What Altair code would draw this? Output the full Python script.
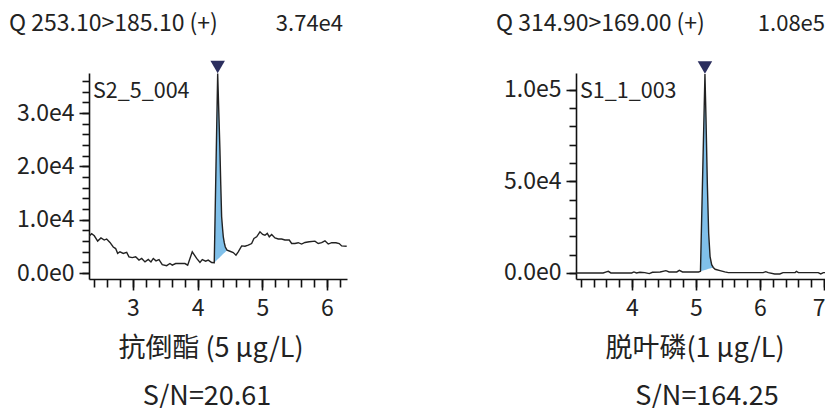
import altair as alt
import pandas as pd

FONT = "Noto Sans CJK SC"
INK = "#222222"
FILL = "#80c0ea"
MARK = "#2b2e5e"

# ---------------- left panel: 抗倒酯 ----------------
left_t = [2.32, 2.361, 2.402, 2.454, 2.505, 2.556, 2.593, 2.644, 2.695, 2.732,
          2.763, 2.799, 2.850, 2.903, 2.938, 2.989, 3.042, 3.093, 3.135, 3.186,
          3.237, 3.278, 3.314, 3.356, 3.402, 3.453, 3.521, 3.572, 3.608, 3.660,
          3.727, 3.804, 3.846, 3.917, 3.985, 4.036, 4.072, 4.124, 4.164, 4.217,
          4.257, 4.31, 4.328, 4.345, 4.358, 4.371, 4.385, 4.397, 4.412, 4.428,
          4.455, 4.50, 4.551, 4.593, 4.628, 4.681, 4.732, 4.783, 4.835, 4.871,
          4.913, 4.964, 5.006, 5.041, 5.077, 5.108, 5.145, 5.196, 5.247, 5.299,
          5.35, 5.417, 5.454, 5.505, 5.556, 5.608, 5.66, 5.726, 5.814, 5.865,
          5.918, 5.969, 6.02, 6.073, 6.139, 6.19, 6.227, 6.305]
left_i = [6900, 7400, 7000, 6000, 6600, 6200, 6400, 5750, 4900, 4600,
          3700, 4000, 3700, 3900, 3050, 2900, 3050, 2450, 2750, 2100,
          2550, 2100, 2750, 2300, 2550, 1600, 1400, 1800, 1500, 1800,
          1800, 1800, 1500, 4000, 2750, 2000, 2550, 2250, 2450, 2000,
          1950, 37400, 30000, 23000, 16500, 10600, 8400, 6800, 5700, 4900,
          4300, 4100, 3850, 3370, 4000, 5100, 5050, 5250, 5550, 6500,
          6800, 7750, 7250, 7100, 7450, 6800, 7250, 6600, 6400, 6400,
          6200, 6200, 5550, 5550, 5700, 5450, 5750, 5870, 6000, 5550,
          5700, 6050, 5450, 5700, 5700, 5550, 5100, 5050]
left_peak_t = [4.257, 4.31, 4.328, 4.345, 4.358, 4.371, 4.385, 4.397, 4.412, 4.428, 4.455]
left_peak_i = [1950, 37400, 30000, 23000, 16500, 10600, 8400, 6800, 5700, 4900, 4300]
left_peak_base = [1950, 2579, 2793, 2994, 3149, 3303, 3469, 3612, 3790, 3980, 4300]
left_apex_t = 4.31
left_apex_i = 37400
left_xdom = [2.32, 6.31]
left_ydom = [-1100, 37500]
left_x_minor = [2.4, 2.6, 2.8, 3.0, 3.2, 3.4, 3.6, 3.8, 4.0, 4.2, 4.4, 4.6, 4.8,
                5.0, 5.2, 5.4, 5.6, 5.8, 6.0, 6.2]
left_x_major = [3, 4, 5, 6]
left_y_minor = [0, 2000, 4000, 6000, 8000, 10000, 12000, 14000, 16000, 18000, 20000,
                22000, 24000, 26000, 28000, 30000, 32000, 34000, 36000]
left_y_major = [0, 10000, 20000, 30000]

# ---------------- right panel: 脱叶磷 ----------------
right_t = [3.125, 3.55, 3.60, 3.63, 3.67, 3.995, 4.03, 4.07, 4.125, 4.20,
           4.27, 4.32, 4.44, 4.53, 4.58, 4.70, 4.74, 4.79, 5.04, 5.07,
           5.14, 5.156, 5.177, 5.198, 5.22, 5.245, 5.27, 5.30, 5.375, 5.45,
           5.505, 6.05, 6.09, 6.13, 6.23, 6.31, 6.36, 6.55, 6.57, 6.60,
           6.91, 6.95, 6.99, 7.016]
right_i = [0, 0, 550, 900, 0, 0, 550, 0, 350, 200,
           -350, 350, 550, 1250, 550, 550, 1400, 550, 550, 900,
           108500, 85000, 49000, 21600, 8900, 4500, 3000, 2000, 1250, 550,
           200, 200, 700, 200, -550, -550, 200, 200, 900, 200,
           200, -550, 200, 200]
right_peak_t = [5.07, 5.14, 5.156, 5.177, 5.198, 5.22, 5.245, 5.27]
right_peak_i = [900, 108500, 85000, 49000, 21600, 8900, 4500, 3000]
right_peak_base = [900, 1635, 1803, 2024, 2244, 2475, 2738, 3000]
right_apex_t = 5.14
right_apex_i = 108500
right_xdom = [3.125, 7.016]
right_ydom = [-3300, 109000]
right_x_minor = [3.2, 3.4, 3.6, 3.8, 4.0, 4.2, 4.4, 4.6, 4.8, 5.0, 5.2, 5.4, 5.6,
                 5.8, 6.0, 6.2, 6.4, 6.6, 6.8, 7.0]
right_x_major = [4, 5, 6, 7]
right_y_minor = [0, 10000, 20000, 30000, 40000, 50000, 60000, 70000, 80000, 90000, 100000]
right_y_major = [0, 50000, 100000]

H = 206


def txt(s, x, y, size=21, align="left"):
    return alt.Chart(pd.DataFrame({"s": [s]})).mark_text(
        font=FONT, fontSize=size, align=align, baseline="alphabetic", color=INK
    ).encode(text="s:N", x=alt.value(x), y=alt.value(y))


def panel(t, inten, pk_t, pk_i, pk_b, apex_t, apex_i, xdom, ydom,
          x_minor, x_major, y_minor, y_major, width,
          q_title, max_label, max_x, sample, compound, compound_x, sn, sn_x):
    line_df = pd.DataFrame({"t": t, "i": inten})
    peak_df = pd.DataFrame({"t": pk_t, "i": pk_i, "b": pk_b})
    apex_df = pd.DataFrame({"t": [apex_t], "i": [apex_i]})
    xs = alt.Scale(domain=xdom, nice=False, zero=False)
    ys = alt.Scale(domain=ydom, nice=False, zero=False)
    common = dict(grid=False, title=None, labelFont=FONT, labelFontSize=23,
                  labelColor=INK, tickColor="#111111", tickWidth=1.6,
                  domainColor="#111111", domainWidth=1.6, labelOverlap=False)
    ax_x_minor = alt.Axis(values=x_minor, labels=False, tickSize=8, orient="bottom", **common)
    ax_x_major = alt.Axis(values=x_major, tickSize=11, domain=False, labelPadding=7,
                          labelFlush=3, labelFlushOffset=1,
                          format="d", orient="bottom", **common)
    ax_y_minor = alt.Axis(values=y_minor, labels=False, tickSize=7, orient="left", **common)
    ax_y_major = alt.Axis(values=y_major, tickSize=10, domain=False, labelPadding=5,
                          labelFlush=False,
                          labelExpr="replace(format(datum.value, '.1e'), '+', '')",
                          orient="left", **common)

    area = alt.Chart(peak_df).mark_area(color=FILL, opacity=1).encode(
        x=alt.X("t:Q", scale=xs, axis=ax_x_major),
        y=alt.Y("i:Q", scale=ys, axis=ax_y_major),
        y2="b:Q",
    )
    line = alt.Chart(line_df).mark_line(color=INK, strokeWidth=1.4, clip=True).encode(
        x=alt.X("t:Q", scale=xs, axis=ax_x_minor),
        y=alt.Y("i:Q", scale=ys, axis=ax_y_minor),
    )
    tri = alt.Chart(apex_df).mark_point(
        shape="triangle-down", filled=True, size=210, color=MARK, opacity=1, yOffset=-6.5
    ).encode(
        x=alt.X("t:Q", scale=xs, axis=None),
        y=alt.Y("i:Q", scale=ys, axis=None),
    )
    layers = [
        area, line, tri,
        txt(q_title, -80, -42, size=23),
        txt(max_label, max_x, -42, size=22, align="right"),
        txt(sample, 4, 25, size=21.5),
        txt(compound, compound_x, 284, size=27, align="center"),
        txt(sn, sn_x, 332, size=27, align="center"),
    ]
    return alt.layer(*layers).resolve_axis(x="independent", y="independent").properties(
        width=width, height=H
    )


left = panel(left_t, left_i, left_peak_t, left_peak_i, left_peak_base,
             left_apex_t, left_apex_i, left_xdom, left_ydom,
             left_x_minor, left_x_major, left_y_minor, left_y_major, 258,
             "Q 253.10>185.10 (+)", "3.74e4", 254, "S2_5_004",
             "抗倒酯  (5 μg/L)", 122, "S/N=20.61", 118)
right = panel(right_t, right_i, right_peak_t, right_peak_i, right_peak_base,
              right_apex_t, right_apex_i, right_xdom, right_ydom,
              right_x_minor, right_x_major, right_y_minor, right_y_major, 249,
              "Q 314.90>169.00 (+)", "1.08e5", 249, "S1_1_003",
              "脱叶磷(1 μg/L)", 119, "S/N=164.25", 131)

chart = alt.hconcat(left, right, spacing=229, bounds="flush").properties(
    padding={"left": 1, "top": 5, "right": 0, "bottom": 0},
    background="white",
).configure_view(stroke=None)

chart.save("out.html", embed_options={"renderer": "svg", "actions": False})
